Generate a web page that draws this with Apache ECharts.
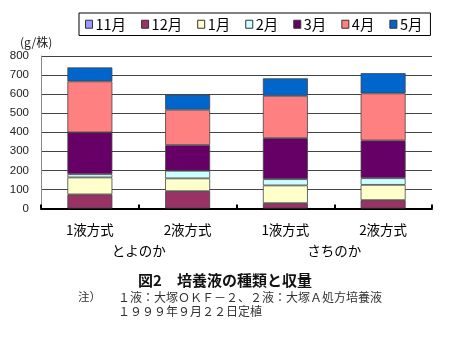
<!DOCTYPE html>
<html><head><meta charset="utf-8">
<script src="https://cdn.jsdelivr.net/npm/echarts@6/dist/echarts.min.js"></script>
<style>html,body{margin:0;padding:0;background:#fff}#c{width:450px;height:344px}</style>
</head><body><div id="c"></div>
<script>
const categories = ['1液方式','2液方式','1液方式','2液方式'];
const groupLabels = ['とよのか','さちのか'];
const seriesNames = ['11月','12月','1月','2月','3月','4月','5月'];
const nov = [0, 0, 0, 0];
const dec = [74, 91, 28, 44];
const jan = [89, 67, 93, 80];
const feb = [17, 40, 33, 35];
const mar = [219, 135, 215, 198];
const apr = [268, 185, 222, 247];
const may = [73, 80, 92, 106];
const yTicks = [0, 800, 100];
const colors = ['#9999FF','#993366','#FFFFCC','#CCFFFF','#660066','#FF8080','#0066CC'];
const values = [nov, dec, jan, feb, mar, apr, may];
const FONT = '"Noto Sans CJK JP", sans-serif';

const chart = echarts.init(document.getElementById('c'), null, {renderer:'canvas'});
chart.setOption({
  animation:false,
  textStyle:{fontFamily:FONT},
  grid:{left:41, right:18, top:56, bottom:135.5, containLabel:false},
  legend:{
    left:79, top:13, width:370,
    data:seriesNames,
    orient:'horizontal',
    borderColor:'#000', borderWidth:1, padding:[4,8,4,6],
    itemWidth:7, itemHeight:8, itemGap:15,
    icon:'rect',
    itemStyle:{borderColor:'#333', borderWidth:1},
    textStyle:{fontSize:14.5, color:'#000', fontFamily:FONT, padding:[0,0,0,-2]}
  },
  xAxis:[{
    type:'category', data:categories, boundaryGap:true,
    axisLine:{show:true, lineStyle:{color:'#000', width:2}},
    axisTick:{show:true, inside:true, length:4, lineStyle:{color:'#000', width:2}},
    axisLabel:{fontSize:13.5, color:'#000', margin:15, fontFamily:FONT},
    splitLine:{show:false}
  },{
    type:'category', data:groupLabels, position:'bottom', gridIndex:0,
    axisLine:{show:false}, axisTick:{show:false}, splitLine:{show:false},
    axisLabel:{fontSize:13.5, color:'#000', margin:36, fontFamily:FONT}
  }],
  yAxis:{
    type:'value', min:yTicks[0], max:yTicks[1], interval:yTicks[2],
    axisLine:{show:true, lineStyle:{color:'#888', width:1}},
    axisTick:{show:false},
    axisLabel:{fontSize:11.5, color:'#222', margin:12, fontFamily:'Arial, "Liberation Sans", sans-serif'},
    splitLine:{show:true, lineStyle:{color:'#444', width:1}}
  },
  series: seriesNames.map((n,i)=>({
    name:n, type:'bar', stack:'t', data:values[i], barWidth:'46%',
    itemStyle:{color:colors[i], borderColor:'#444', borderWidth: values[i].some(v=>v>0)?0.8:0}
  })),
  graphic:[
    {type:'text', left:20, top:36, style:{text:'(g/株)', font:'12px '+FONT, fill:'#222'}},
    {type:'text', left:'center', top:273, style:{text:'図2　培養液の種類と収量', font:'bold 15px '+FONT, fill:'#111'}},
    {type:'text', left:78, top:291, style:{text:'注）', font:'11.5px '+FONT, fill:'#333'}},
    {type:'text', left:118, top:291, style:{text:'１液：大塚ＯＫＦ－２、２液：大塚Ａ処方培養液', font:'12px '+FONT, fill:'#333'}},
    {type:'text', left:118, top:305, style:{text:'１９９９年９月２２日定植', font:'12px '+FONT, fill:'#333'}}
  ]
});
</script></body></html>
